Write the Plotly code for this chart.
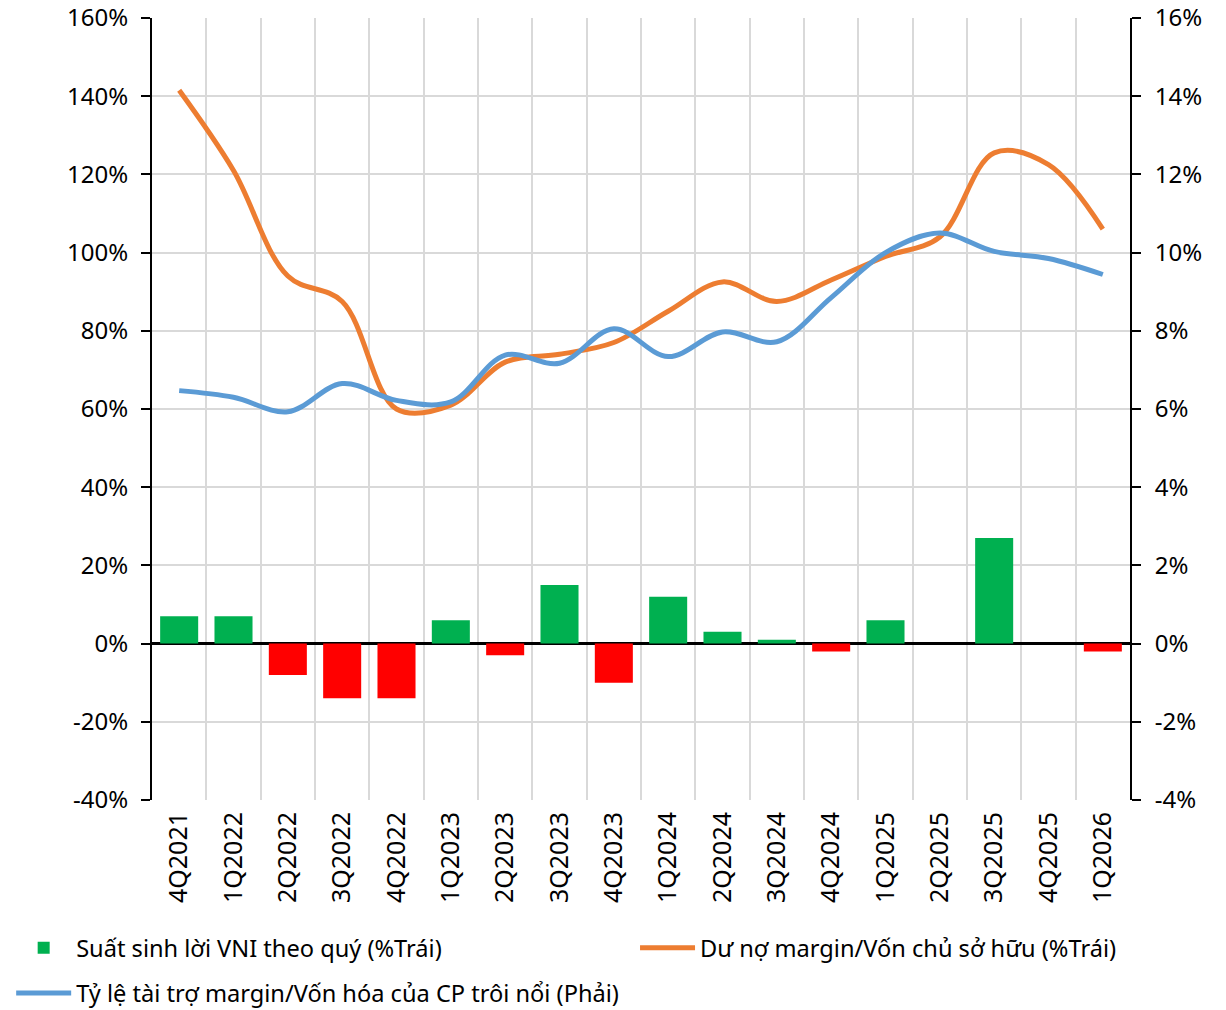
import plotly.graph_objects as go

categories = ["4Q2021", "1Q2022", "2Q2022", "3Q2022", "4Q2022", "1Q2023", "2Q2023",
              "3Q2023", "4Q2023", "1Q2024", "2Q2024", "3Q2024", "4Q2024", "1Q2025",
              "2Q2025", "3Q2025", "4Q2025", "1Q2026"]
vni_return = [7, 7, -8, -14, -14, 6, -3, 15, -10, 12, 3, 1, -2, 6, 0, 27, 0, -2]
margin_equity = [141.5, 121, 94, 87.5, 60, 61, 72, 74, 77, 85, 92.5, 87.5, 93, 99,
                 104, 125.5, 122.5, 106]
margin_mcap = [6.47, 6.3, 5.93, 6.65, 6.22, 6.18, 7.38, 7.17, 8.05, 7.34, 7.97, 7.72,
               8.85, 10.0, 10.5, 10.03, 9.85, 9.44]

left_ticks = [-40, -20, 0, 20, 40, 60, 80, 100, 120, 140, 160]
right_ticks = [-4, -2, 0, 2, 4, 6, 8, 10, 12, 14, 16]

name_bar = "Suất sinh lời VNI theo quý (%Trái)"
name_orange = "Dư nợ margin/Vốn chủ sở hữu (%Trái)"
name_blue = "Tỷ lệ tài trợ margin/Vốn hóa của CP trôi nổi (Phải)"

left_range = [left_ticks[0], left_ticks[-1]]
right_range = [right_ticks[0], right_ticks[-1]]

GREEN = "#00B050"
RED = "#FF0000"
ORANGE = "#ED7D31"
BLUE = "#5B9BD5"
GRID = "#D9D9D9"
FONT = "Noto Sans"

fig = go.Figure()
fig.add_trace(go.Bar(
    x=categories, y=vni_return, name=name_bar,
    marker=dict(color=[GREEN if v >= 0 else RED for v in vni_return], line=dict(width=0)),
    width=0.7, legend="legend", showlegend=True,
))
fig.add_trace(go.Scatter(
    x=categories, y=margin_equity, name=name_orange, mode="lines",
    line=dict(color=ORANGE, width=5, shape="spline", smoothing=1),
    legend="legend2", showlegend=True,
))
fig.add_trace(go.Scatter(
    x=categories, y=margin_mcap, name=name_blue, mode="lines", yaxis="y2",
    line=dict(color=BLUE, width=5, shape="spline", smoothing=1),
    legend="legend3", showlegend=True,
))

n = len(categories)
zero_pos = (0 - left_range[0]) / (left_range[1] - left_range[0])

legend_common = dict(orientation="h", xanchor="left", yanchor="middle", itemwidth=55,
                     font=dict(size=23.6), bgcolor="rgba(0,0,0,0)")

# The page body adds an 8px offset, so the figure is sized/margined to compensate.
fig.update_layout(
    width=1218, height=1002,
    margin=dict(l=144, r=96, t=10, b=210, autoexpand=False),
    showlegend=True,
    plot_bgcolor="white", paper_bgcolor="white",
    font=dict(family=FONT, size=22, color="black"),
    bargap=0.3,
    xaxis=dict(
        type="category", categoryorder="array", categoryarray=categories,
        range=[-0.5, n - 0.5], tickson="boundaries", showgrid=True,
        gridcolor=GRID, gridwidth=1.5, ticks="", tickangle=-90,
        showline=False, zeroline=False, ticklabelstandoff=6,
        tickfont=dict(size=25), automargin=False,
    ),
    xaxis2=dict(
        overlaying="x", anchor="free", position=zero_pos, type="linear",
        range=[-0.5, n - 0.5], tickmode="array",
        tickvals=[i + 0.5 for i in range(n - 1)],
        ticks="outside", ticklen=9, tickwidth=2, tickcolor="black",
        showticklabels=False, showgrid=False, showline=False, zeroline=False,
        automargin=False,
    ),
    yaxis=dict(
        range=left_range, tickmode="array", tickvals=left_ticks,
        ticktext=[f"{v}%" for v in left_ticks],
        ticks="outside", ticklen=9,
        tickwidth=2, tickcolor="black", showline=True, linecolor="black", linewidth=2,
        showgrid=True, gridcolor=GRID, gridwidth=1.5,
        zeroline=True, zerolinecolor="black", zerolinewidth=2.5,
        tickfont=dict(size=24), ticklabelstandoff=8, automargin=False,
        ticklabeloverflow="allow",
    ),
    yaxis2=dict(
        range=right_range, tickmode="array", tickvals=right_ticks,
        ticktext=[f"{v}%" for v in right_ticks],
        overlaying="y", side="right",
        ticks="outside", ticklen=9, tickwidth=2, tickcolor="black",
        showline=True, linecolor="black", linewidth=2, showgrid=False, zeroline=False,
        tickfont=dict(size=24), ticklabelstandoff=9, automargin=False,
        ticklabeloverflow="allow",
    ),
    legend=dict(x=-0.144, y=-0.189, **legend_common),
    legend2=dict(x=0.4939, y=-0.189, **legend_common),
    legend3=dict(x=-0.144, y=-0.247, **legend_common),
)

fig.write_html("out.html")
